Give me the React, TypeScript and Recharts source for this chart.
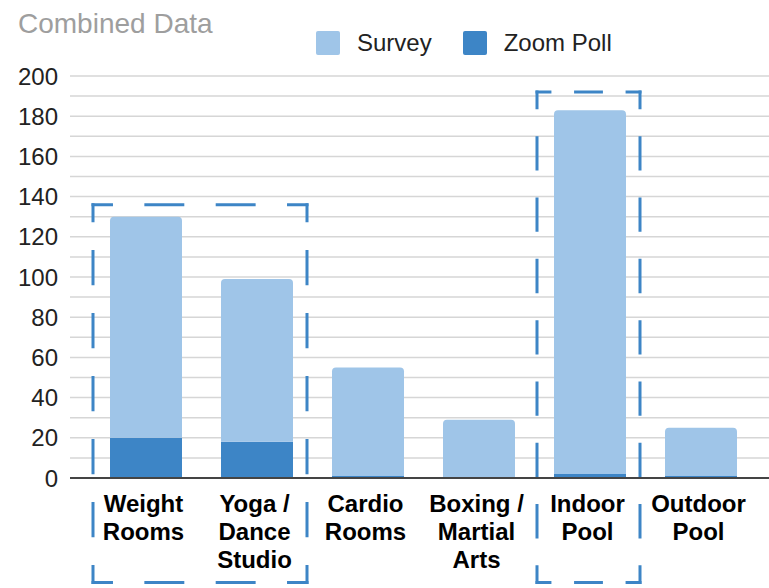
import { BarChart, Bar, XAxis, YAxis, CartesianGrid, ReferenceArea } from "recharts";

const categories = [
  "Weight Rooms",
  "Yoga / Dance Studio",
  "Cardio Rooms",
  "Boxing / Martial Arts",
  "Indoor Pool",
  "Outdoor Pool",
];
const tickLines = [
  ["Weight", "Rooms"],
  ["Yoga /", "Dance", "Studio"],
  ["Cardio", "Rooms"],
  ["Boxing /", "Martial", "Arts"],
  ["Indoor", "Pool"],
  ["Outdoor", "Pool"],
];
const zoomPoll = [20, 18, 1, 0, 2, 1];
const survey = [110, 81, 54, 29, 181, 24];
const yTicks = [0, 10, 20, 30, 40, 50, 60, 70, 80, 90, 100, 110, 120, 130, 140, 150, 160, 170, 180, 190, 200];

const seriesNames = ["Survey", "Zoom Poll"];
const seriesColors = ["#9fc5e8", "#3d85c6"];

// highlight boxes (category span + value span, in data units)
const highlights = [
  { from: "Weight Rooms", to: "Yoga / Dance Studio", low: -52, high: 136 },
  { from: "Indoor Pool", to: "Indoor Pool", low: -52, high: 192 },
];

const data = categories.map((name, i) => ({
  name,
  survey: survey[i],
  zoom: zoomPoll[i],
}));

const FONT = '"Liberation Sans", Arial, sans-serif';

const CategoryTick = ({ x, y, payload }: any) => {
  const lines = tickLines[categories.indexOf(payload.value)] || [payload.value];
  return (
    <text x={x - 2} y={y} textAnchor="middle" fontSize={24} fontWeight="bold" fill="#000" fontFamily={FONT}>
      {lines.map((l, i) => (
        <tspan key={i} x={x - 2} dy={i === 0 ? 34 : 28}>
          {l}
        </tspan>
      ))}
    </text>
  );
};

// dashed box, each side's dashes spread so corners get half dashes
const DashedBox = ({ x, y, width, height }: any) => {
  const sw = 3;
  const side = (x1: number, y1: number, x2: number, y2: number, key: string) => {
    const len = Math.hypot(x2 - x1, y2 - y1);
    const n = Math.max(1, Math.round(len / 62));
    const period = len / n;
    const dash = period * 0.56;
    const ux = (x2 - x1) / len;
    const uy = (y2 - y1) / len;
    return (
      <line
        key={key}
        x1={x1 - ux * sw / 2}
        y1={y1 - uy * sw / 2}
        x2={x2 + ux * sw / 2}
        y2={y2 + uy * sw / 2}
        stroke="#3d85c6"
        strokeWidth={sw}
        strokeDasharray={`${dash} ${period - dash}`}
        strokeDashoffset={dash / 2 - sw / 2}
      />
    );
  };
  const l = x + 3;
  const r = x + width - 5;
  const t = y;
  const b = y + height;
  return (
    <g>
      {side(l, t, r, t, "t")}
      {side(r, t, r, b, "r")}
      {side(r, b, l, b, "b")}
      {side(l, b, l, t, "l")}
    </g>
  );
};

export default function App() {
  return (
    <div style={{ position: "absolute", left: 0, top: 0, width: 769, height: 588, fontFamily: FONT, background: "#fff" }}>
      <div style={{ position: "absolute", left: 18, top: 10, fontSize: 28, lineHeight: "28px", color: "#9e9e9e" }}>
        Combined Data
      </div>
      <div style={{ position: "absolute", left: 316, top: 31, display: "flex", alignItems: "center", gap: 31 }}>
        {seriesNames.map((s, i) => (
          <div key={s} style={{ display: "flex", alignItems: "center" }}>
            <div style={{ width: 24, height: 24, borderRadius: 2, background: seriesColors[i], marginRight: 17 }} />
            <span style={{ fontSize: 24, lineHeight: "24px", color: "#222" }}>{s}</span>
          </div>
        ))}
      </div>
      <BarChart width={769} height={588} data={data} margin={{ top: 76, right: 0, bottom: 0, left: 0 }}>
        <CartesianGrid vertical={false} stroke="#d6d6d6" strokeWidth={1.5} />
        <XAxis
          dataKey="name"
          height={110}
          padding={{ left: 20, right: 13 }}
          tickLine={false}
          tickSize={0}
          tickMargin={0}
          interval={0}
          axisLine={{ stroke: "#444", strokeWidth: 2 }}
          tick={<CategoryTick />}
        />
        <YAxis
          width={70}
          domain={[0, 200]}
          ticks={yTicks}
          interval={0}
          axisLine={false}
          tickLine={false}
          tickSize={0}
          tickMargin={12}
          tick={{ fontSize: 24, fill: "#222", fontFamily: FONT }}
          tickFormatter={(v) => (v % 20 === 0 ? String(v) : "")}
        />
        <Bar dataKey="zoom" name="Zoom Poll" stackId="a" fill={seriesColors[1]} barSize={72} isAnimationActive={false} />
        <Bar
          dataKey="survey"
          name="Survey"
          stackId="a"
          fill={seriesColors[0]}
          barSize={72}
          radius={[4, 4, 0, 0]}
          isAnimationActive={false}
        />
        {highlights.map((h, i) => (
          <ReferenceArea
            key={i}
            x1={h.from}
            x2={h.to}
            y1={h.low}
            y2={h.high}
            ifOverflow="visible"
            shape={<DashedBox />}
          />
        ))}
      </BarChart>
    </div>
  );
}
